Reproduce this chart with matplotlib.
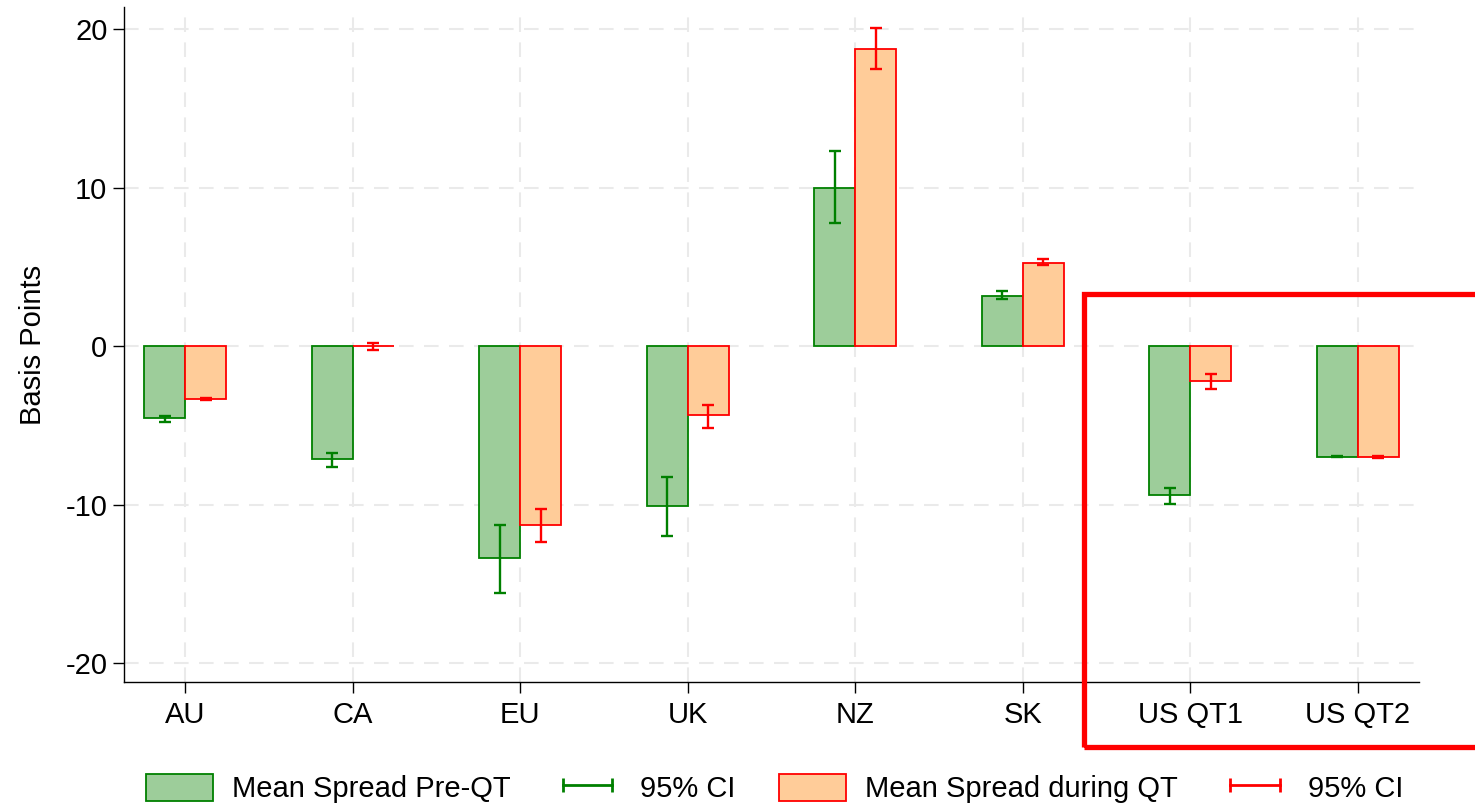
import numpy as np
import matplotlib
matplotlib.use("Agg")
import matplotlib.pyplot as plt
from matplotlib.lines import Line2D
from matplotlib.patches import Patch, Rectangle

plt.rcParams["font.family"] = ["Liberation Sans", "DejaVu Sans"]
plt.rcParams["axes.unicode_minus"] = False

# mean spread by jurisdiction (basis points) with 95% CI bounds
countries = ["AU", "CA", "EU", "UK", "NZ", "SK", "US QT1", "US QT2"]
pre_mean = [-4.53, -7.14, -13.37, -10.09, 10.0, 3.16, -9.37, -6.97]
pre_lo = [-4.80, -7.65, -15.58, -12.00, 7.77, 2.99, -9.94, -7.00]
pre_hi = [-4.40, -6.74, -11.27, -8.26, 12.30, 3.47, -8.95, -6.95]
qt_mean = [-3.35, 0.0, -11.30, -4.38, 18.74, 5.24, -2.19, -6.99]
qt_lo = [-3.40, -0.25, -12.38, -5.14, 17.48, 5.12, -2.70, -7.05]
qt_hi = [-3.30, 0.20, -10.30, -3.70, 20.10, 5.50, -1.79, -6.95]

GREEN_FILL, GREEN = "#9dcd9a", "#008000"
ORANGE_FILL, RED = "#ffcc99", "#ff0000"
FS = 21

fig = plt.figure(figsize=(14.75, 8.07), dpi=100)
ax = fig.add_axes([0.0841, 0.1549, 0.8779, 0.8364])

x = np.arange(len(countries))
w = 0.245

for xi in x:
    ax.axvline(xi, color="#eaeaea", lw=1.5, dashes=(7, 5), zorder=0)
for yv in (-20, -10, 0, 10, 20):
    ax.axhline(yv, color="#eaeaea", lw=1.5, dashes=(7, 5), zorder=0)

def ci_err(mean, lo, hi):
    m, l, h = map(np.asarray, (mean, lo, hi))
    return np.vstack([m - l, h - m])

ax.bar(x - w / 2, pre_mean, w, color=GREEN_FILL, edgecolor=GREEN, lw=1.3, zorder=2)
ax.bar(x + w / 2, qt_mean, w, color=ORANGE_FILL, edgecolor=RED, lw=1.3, zorder=2)
ax.errorbar(x - w / 2, pre_mean, yerr=ci_err(pre_mean, pre_lo, pre_hi), fmt="none",
            ecolor=GREEN, elinewidth=1.7, capsize=4, capthick=1.7, zorder=3)
ax.errorbar(x + w / 2, qt_mean, yerr=ci_err(qt_mean, qt_lo, qt_hi), fmt="none",
            ecolor=RED, elinewidth=1.7, capsize=4, capthick=1.7, zorder=3)

ax.set_xlim(-0.366, 7.366)
ax.set_ylim(-21.2, 21.4)
ax.set_xticks(x)
ax.set_xticklabels(countries)
ax.set_yticks([-20, -10, 0, 10, 20])
ax.set_ylabel("Basis Points", fontsize=FS, labelpad=13)
ax.tick_params(labelsize=FS, length=8, width=1.0, direction="out")
ax.tick_params(axis="x", pad=6)
ax.tick_params(axis="y", pad=4)
for side in ("top", "right"):
    ax.spines[side].set_visible(False)
for side in ("left", "bottom"):
    ax.spines[side].set_linewidth(1.0)

# highlight box around the US episodes
fig.patches.append(Rectangle((0.7346, 0.0744), 0.4, 0.5613, transform=fig.transFigure,
                             fill=False, edgecolor=RED, lw=3.8, clip_on=False))

handles = [
    Patch(facecolor=GREEN_FILL, edgecolor=GREEN, lw=1.3),
    Line2D([], [], color=GREEN, lw=2, marker="|", markersize=10, markeredgewidth=2),
    Patch(facecolor=ORANGE_FILL, edgecolor=RED, lw=1.3),
    Line2D([], [], color=RED, lw=2, marker="|", markersize=10, markeredgewidth=2),
]
labels = ["Mean Spread Pre-QT", "95% CI", "Mean Spread during QT", "95% CI"]
fig.legend(handles, labels, loc="center", bbox_to_anchor=(0.525, 0.023),
           bbox_transform=fig.transFigure, ncol=4, frameon=False, fontsize=FS,
           numpoints=2, handlelength=2.3, handleheight=1.05, handletextpad=0.65,
           columnspacing=1.5)

fig.savefig("out.png", dpi=100)
